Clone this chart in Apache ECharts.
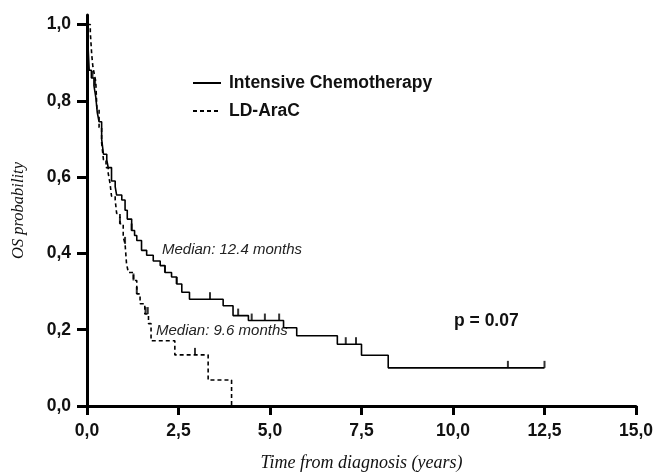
<!DOCTYPE html>
<html><head><meta charset="utf-8">
<script src="https://cdn.jsdelivr.net/npm/echarts@6/dist/echarts.min.js"></script>
<style>html,body{margin:0;padding:0;background:#fff}#c{width:654px;height:474px}</style>
</head><body><div id="c"></div>
<script>
// Intensive Chemotherapy: event times (years) and survival after each event
const icTimes = [0, 0.02, 0.04, 0.06, 0.12, 0.19, 0.24, 0.28, 0.33, 0.40, 0.45, 0.54, 0.58, 0.67, 0.77, 0.81, 0.95, 1.04, 1.10, 1.22, 1.30, 1.36, 1.49, 1.63, 1.81, 2.00, 2.13, 2.31, 2.45, 2.59, 2.80, 3.72, 3.99, 4.41, 5.37, 5.73, 6.84, 7.50, 8.23, 12.5];
const icSurv  = [1.0, 0.96, 0.92, 0.88, 0.86, 0.84, 0.81, 0.77, 0.745, 0.70, 0.66, 0.645, 0.625, 0.59, 0.575, 0.553, 0.54, 0.513, 0.49, 0.46, 0.447, 0.434, 0.408, 0.395, 0.38, 0.368, 0.35, 0.338, 0.32, 0.298, 0.28, 0.263, 0.237, 0.224, 0.205, 0.184, 0.162, 0.133, 0.10, 0.10];
const icCensor = [0.15, 0.22, 1.22, 2.13, 2.45, 3.36, 4.13, 4.50, 4.86, 5.25, 7.07, 7.35, 11.5, 12.5];
// LD-AraC
const ldTimes = [0, 0.09, 0.11, 0.13, 0.16, 0.20, 0.24, 0.27, 0.33, 0.40, 0.45, 0.52, 0.58, 0.63, 0.67, 0.77, 0.81, 0.90, 0.99, 1.04, 1.08, 1.13, 1.27, 1.36, 1.45, 1.58, 1.68, 1.75, 2.40, 3.31, 3.95];
const ldSurv  = [1.0, 0.98, 0.95, 0.92, 0.89, 0.87, 0.85, 0.78, 0.73, 0.69, 0.645, 0.625, 0.61, 0.583, 0.55, 0.54, 0.505, 0.478, 0.443, 0.425, 0.373, 0.35, 0.329, 0.294, 0.268, 0.241, 0.216, 0.171, 0.134, 0.068, 0.0];
const ldCensor = [0.90, 1.04, 1.27, 1.36, 1.60, 1.66, 2.95];
const xTicks = [0, 2.5, 5, 7.5, 10, 12.5, 15];
const yTicks = [0, 0.2, 0.4, 0.6, 0.8, 1.0];

function survAt(times, surv, t){ let s = surv[0]; for (let i=0;i<times.length;i++){ if (times[i] <= t) s = surv[i]; } return s; }
const pairs = (a,b)=>a.map((t,i)=>[t,b[i]]);
const fmt = v => v.toFixed(1).replace('.', ',');

const chart = echarts.init(document.getElementById('c'), null, {renderer:'canvas'});
const tickFont = {fontFamily:'Liberation Sans, Arial, sans-serif', fontWeight:'bold', fontSize:17.5, color:'#111'};
chart.setOption({
  animation:false,
  grid:{left:87, right:18, top:15, bottom:68, containLabel:false, outerBoundsMode:'none'},
  legend:{
    orient:'vertical', left:187, top:69, itemWidth:28, itemHeight:14, itemGap:10,
    data:['Intensive Chemotherapy','LD-AraC'],
    itemStyle:{opacity:0},
    textStyle:{fontFamily:'Liberation Sans, Arial, sans-serif', fontWeight:'bold', fontSize:17.5, color:'#111', padding:[0,0,0,3]}
  },
  xAxis:{
    type:'value', min:0, max:15, interval:2.5,
    name:'Time from diagnosis (years)', nameLocation:'middle', nameGap:48,
    nameTextStyle:{fontFamily:'Liberation Serif, Times New Roman, serif', fontStyle:'italic', fontSize:18, color:'#111'},
    axisLine:{lineStyle:{color:'#000', width:3}},
    axisTick:{show:true, length:9, lineStyle:{color:'#000', width:3}},
    axisLabel:Object.assign({margin:16, formatter:fmt}, tickFont),
    splitLine:{show:false}
  },
  yAxis:{
    type:'value', min:0, max:1.025,
    name:'OS probability', nameLocation:'middle', nameGap:60,
    nameTextStyle:{fontFamily:'Liberation Serif, Times New Roman, serif', fontStyle:'italic', fontSize:16.5, color:'#111'},
    axisLine:{lineStyle:{color:'#000', width:3}},
    axisTick:{show:true, length:10, customValues:yTicks, lineStyle:{color:'#000', width:3}},
    axisLabel:Object.assign({margin:16, formatter:fmt, customValues:yTicks}, tickFont),
    splitLine:{show:false}
  },
  series:[
    {name:'Intensive Chemotherapy', type:'line', step:'end', symbol:'none', data:pairs(icTimes, icSurv),
     lineStyle:{color:'#000', width:1.6, type:'solid'}, itemStyle:{color:'#000'}, z:3},
    {name:'LD-AraC', type:'line', step:'end', symbol:'none', data:pairs(ldTimes, ldSurv),
     lineStyle:{color:'#000', width:1.6, type:[4,3]}, itemStyle:{color:'#000'}, z:3},
    {name:'icCensor', type:'scatter', symbol:'rect', symbolSize:[2,7], symbolOffset:[0,-3.5],
     data:icCensor.map(t=>[t, survAt(icTimes, icSurv, t)]), itemStyle:{color:'#000'}, z:4},
    {name:'ldCensor', type:'scatter', symbol:'rect', symbolSize:[2,7], symbolOffset:[0,-3.5],
     data:ldCensor.map(t=>[t, survAt(ldTimes, ldSurv, t)]), itemStyle:{color:'#000'}, z:4}
  ],
  graphic:[
    {type:'text', left:162, top:242, style:{text:'Median: 12.4 months', fill:'#222', font:'italic 15px Liberation Sans, Arial, sans-serif'}},
    {type:'text', left:156, top:323, style:{text:'Median: 9.6 months', fill:'#222', font:'italic 15px Liberation Sans, Arial, sans-serif'}},
    {type:'text', left:454, top:312, style:{text:'p = 0.07', fill:'#111', font:'bold 17.5px Liberation Sans, Arial, sans-serif'}}
  ]
});
</script></body></html>
